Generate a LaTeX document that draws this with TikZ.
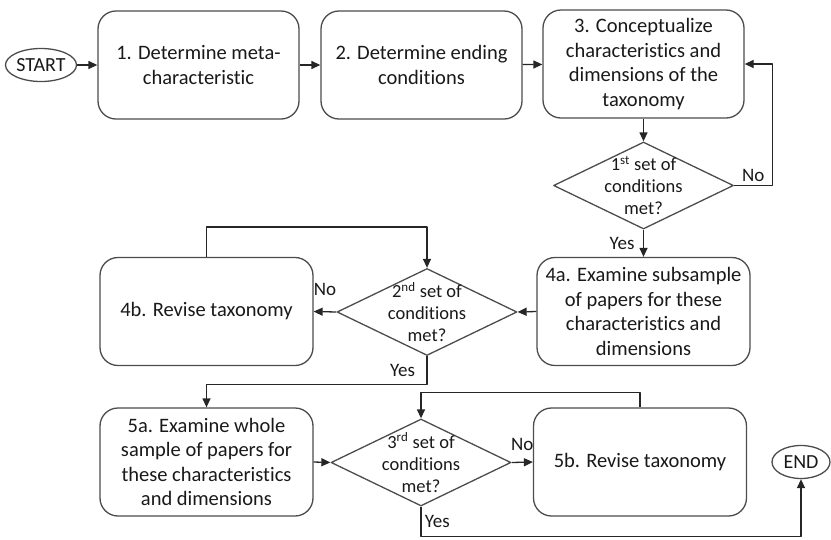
\documentclass[tikz,border=0pt]{standalone}
\usepackage{fontspec}
\setmainfont{Carlito}[Ligatures=NoCommon]
\usetikzlibrary{shapes.geometric,arrows.meta}

\tikzset{
  stepbox/.style={draw=black!70, line width=1.3pt, rounded corners=18pt,
    minimum width=201pt, minimum height=108pt, align=center, inner sep=2pt,
    text=black!90, font=\fontsize{20.5}{24.5}\selectfont},
  widebox/.style={stepbox, minimum width=213pt},
  cond/.style={draw=black!70, line width=1.3pt, diamond, inner sep=0pt,
    minimum width=180pt, minimum height=87pt},
  condtext/.style={align=center, inner sep=0pt, text=black!90,
    font=\fontsize{18.5}{22}\selectfont},
  term/.style={draw=black!70, line width=1.3pt, ellipse, inner sep=0.5pt,
    minimum width=62pt, minimum height=33pt, text=black!90,
    font=\fontsize{20}{22}\selectfont},
  arr/.style={draw=black!85, line width=1.3pt, -{Triangle[length=9pt,width=8pt]}},
  lbl/.style={text=black!90, font=\fontsize{19}{22}\selectfont}
}

\begin{document}
\begin{tikzpicture}[x=1pt, y=-1pt, line join=round]
      \useasboundingbox (0,0) rectangle (831,539);

      % Top row
      \node[term, minimum width=68pt] (start) at (41,65) {START};
      \node[stepbox] (s1) at (198.5,65) {1. Determine meta-\\characteristic};
      \node[stepbox] (s2) at (421.5,65) {2. Determine ending\\conditions};
      \node[stepbox] (s3) at (643.5,64) {3. Conceptualize\\characteristics and\\dimensions of the\\taxonomy};

      % First check
      \node[cond, label={[condtext]center:1\textsuperscript{st} set of\\conditions\\met?}] (c1) at (643.5,185.5) {};

      % Middle row
      \node[widebox] (s4a) at (643.5,311.5) {4a. Examine subsample\\of papers for these\\characteristics and\\dimensions};
      \node[cond, label={[condtext]center:2\textsuperscript{nd} set of\\conditions\\met?}] (c2) at (427,312) {};
      \node[widebox] (s4b) at (206.5,311.5) {4b. Revise taxonomy};

      % Bottom row
      \node[widebox] (s5a) at (206.5,462) {5a. Examine whole\\sample of papers for\\these characteristics\\and dimensions};
      \node[cond, label={[condtext]center:3\textsuperscript{rd} set of\\conditions\\met?}] (c3) at (421,462.5) {};
      \node[widebox] (s5b) at (640,462) {5b. Revise taxonomy};
      \node[term, minimum width=58pt] (end) at (801,462) {END};

      % Connectors
      \draw[arr] (start) -- (s1);
      \draw[arr] (s1) -- (s2);
      \draw[arr] (s2) -- (s3);
      \draw[arr] (s3) -- (c1);
      \draw[arr] (c1.east) -- node[lbl, above]{No} ++(38,0) |- (s3.east);
      \draw[arr] (c1.south) -- node[lbl, left=5pt]{Yes} (s4a.north);
      \draw[arr] (s4a.west) -- (c2.east);
      \draw[arr] (c2.west) -- node[lbl, above=12pt]{No} (s4b.east);
      \draw[arr] (s4b.north) -- ++(0,-30) -| (c2.north);
      \draw[arr] (c2.south) -- node[lbl, left=8pt]{Yes} ++(0,28) -| (s5a.north);
      \draw[arr] (s5a.east) -- (c3.west);
      \draw[arr] (c3.east) -- node[lbl, above=8pt]{No} (s5b.west);
      \draw[arr] (s5b.north) -- ++(0,-15) -| (c3.north);
      \draw[arr] (c3.south) -- node[lbl, right]{Yes} ++(0,30) -| (end.south);

\end{tikzpicture}
\end{document}
